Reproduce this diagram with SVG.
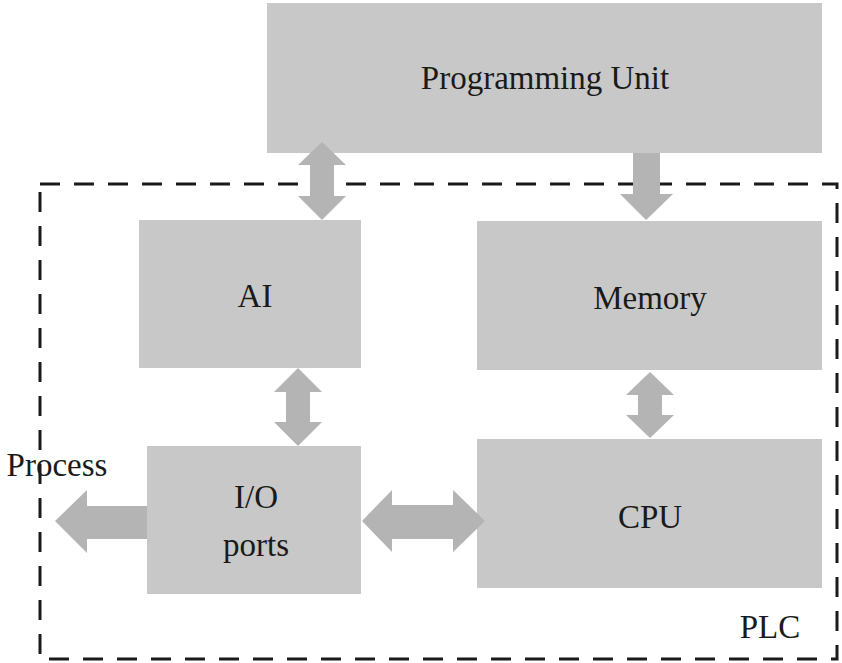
<svg xmlns="http://www.w3.org/2000/svg" width="842" height="663" viewBox="0 0 842 663">
<style>
.box{fill:#c8c8c8}
.arr{fill:#b4b4b4}
text{font-family:"Liberation Serif",serif;font-size:33px;fill:#1a1a1a;text-anchor:middle}
</style>
<rect width="842" height="663" fill="#fff"/>
<g id="plc">
<rect x="40" y="184" width="797" height="475" fill="none" stroke="#1a1a1a" stroke-width="3" stroke-dasharray="20 14"/>
<text x="770" y="638">PLC</text>
</g>
<g id="programming-unit"><rect class="box" x="267" y="3" width="555" height="150"/><text x="545" y="89">Programming Unit</text></g>
<g id="ai"><rect class="box" x="139" y="220" width="222" height="148"/><text x="255" y="307">AI</text></g>
<g id="memory"><rect class="box" x="477" y="221" width="345" height="149"/><text x="650" y="309">Memory</text></g>
<g id="io"><rect class="box" x="147" y="446" width="214" height="148"/><text x="256" y="508">I/O</text><text x="256" y="556">ports</text></g>
<g id="cpu"><rect class="box" x="477" y="439" width="345" height="149"/><text x="650" y="528">CPU</text></g>
<g id="process"><text x="57" y="476">Process</text></g>
<g id="connectors" class="arr">
<polygon points="322,142 346,165 334,165 334,196 346,196 322,220 298,196 310,196 310,165 298,165"/>
<polygon points="633,153 660,153 660,194 673,194 646,220 620,194 633,194"/>
<polygon points="298,368 322,392 310,392 310,422 322,422 298,446 274,422 286,422 286,392 274,392"/>
<polygon points="650,372 674,395 662,395 662,415 674,415 650,438 626,415 638,415 638,395 626,395"/>
<polygon points="362,521 392,490 392,505 453,505 453,490 485,521 453,552 453,539 392,539 392,552"/>
<polygon points="55,521 87,490 87,506 147,506 147,539 87,539 87,553"/>
</g>
</svg>
